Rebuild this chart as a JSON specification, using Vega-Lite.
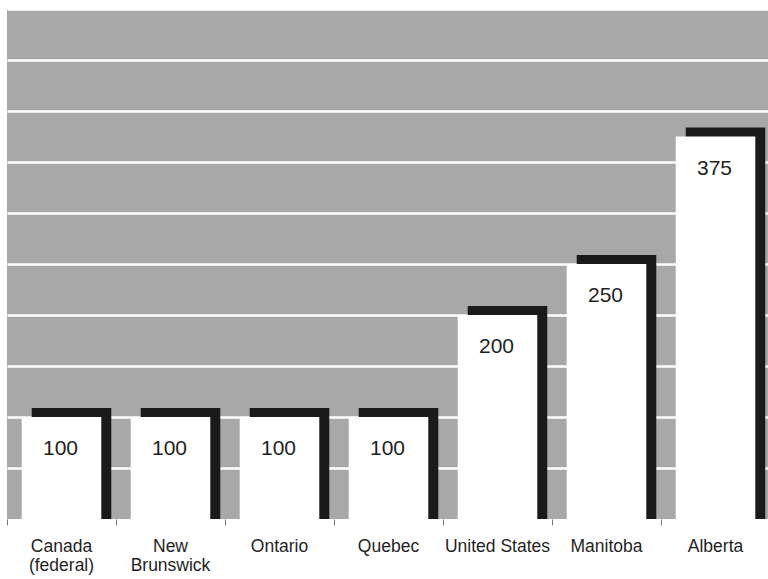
{
  "$schema": "https://vega.github.io/schema/vega-lite/v6.json",
  "width": 763,
  "height": 510,
  "autosize": "none",
  "padding": {"left": 7, "top": 9, "right": 0, "bottom": 60},
  "background": "white",
  "config": {
    "view": {"fill": "#a8a8a8", "stroke": null},
    "font": "Liberation Sans"
  },
  "data": {
    "values": [
      {"jurisdiction": "Canada (federal)", "amount": 100},
      {"jurisdiction": "New Brunswick", "amount": 100},
      {"jurisdiction": "Ontario", "amount": 100},
      {"jurisdiction": "Quebec", "amount": 100},
      {"jurisdiction": "United States", "amount": 200},
      {"jurisdiction": "Manitoba", "amount": 250},
      {"jurisdiction": "Alberta", "amount": 375}
    ]
  },
  "encoding": {
    "x": {
      "field": "jurisdiction",
      "type": "nominal",
      "sort": null,
      "scale": {"paddingInner": 0, "paddingOuter": 0},
      "axis": {
        "title": null,
        "domain": false,
        "bandPosition": 0,
        "ticks": true,
        "tickSize": 6,
        "tickColor": "#777777",
        "tickWidth": 1,
        "labelAngle": 0,
        "labelFont": "Liberation Sans",
        "labelFontSize": 17.5,
        "labelColor": "#1f1f1f",
        "labelPadding": 12,
        "labelLineHeight": 19,
        "labelExpr": "datum.label == 'Canada (federal)' ? ['Canada', '(federal)'] : datum.label == 'New Brunswick' ? ['New', 'Brunswick'] : datum.label"
      }
    },
    "y": {
      "field": "amount",
      "type": "quantitative",
      "scale": {"domain": [0, 500], "nice": false},
      "axis": {
        "title": null,
        "domain": false,
        "ticks": false,
        "labels": false,
        "values": [50, 100, 150, 200, 250, 300, 350, 400, 450, 500],
        "grid": true,
        "gridColor": "white",
        "gridWidth": 2.5,
        "gridOpacity": 1
      }
    }
  },
  "layer": [
    {
      "mark": {
        "type": "bar",
        "color": "#1a1a1a",
        "width": {"band": 0.73},
        "xOffset": 10,
        "yOffset": -9,
        "y2Offset": 9,
        "clip": true
      },
      "encoding": {
        "y": {"field": "amount", "type": "quantitative", "stack": null},
        "y2": {"datum": 0}
      }
    },
    {
      "mark": {
        "type": "bar",
        "color": "white",
        "width": {"band": 0.73}
      }
    },
    {
      "mark": {
        "type": "text",
        "font": "Liberation Sans",
        "fontSize": 21,
        "color": "#1f1f1f",
        "baseline": "middle",
        "dy": 32,
        "dx": -1
      },
      "encoding": {"text": {"field": "amount", "type": "quantitative"}}
    }
  ]
}
